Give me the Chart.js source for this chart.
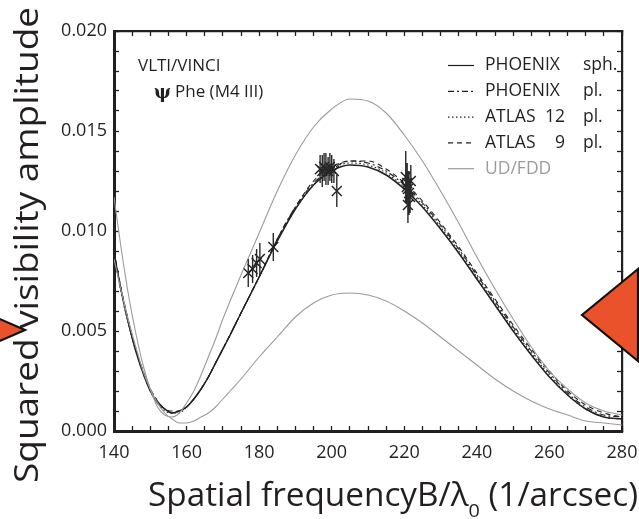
<!DOCTYPE html>
<html>
<head>
<meta charset="utf-8">
<script src="https://cdn.jsdelivr.net/npm/chart.js@4"></script>
<style>
  body { margin: 0; background: #fff; }
  #canvas { display: block; }
</style>
</head>
<body>
<canvas id="canvas" width="639" height="519"></canvas>
<script>
const canvas = document.getElementById("canvas");
const ctx = canvas.getContext("2d");

// spatial frequency samples for the model curves
const modelX = [140, 142, 144, 146, 148, 150, 152, 154, 156, 158, 160, 162, 164, 166, 168, 170, 172, 175,
  180, 185, 190, 195, 200, 205, 210, 215, 220, 225, 230, 235, 240, 245, 250, 255, 260, 265, 270, 275, 280];

const phoenixSph = [0.0089, 0.0070, 0.0054, 0.0040, 0.0029, 0.0020, 0.0014, 0.0011, 0.0009, 0.0010, 0.0012, 0.0016,
  0.0021, 0.0027, 0.0034, 0.0041, 0.0048, 0.0059, 0.0077, 0.0095, 0.0111, 0.0123, 0.0130, 0.0133, 0.0132, 0.0128,
  0.0121, 0.0112, 0.0101, 0.0089, 0.0076, 0.0063, 0.0050, 0.0038, 0.0027, 0.0018, 0.0011, 0.0007, 0.0006];
const phoenixPl = [0.0088, 0.0070, 0.0054, 0.0041, 0.0030, 0.0021, 0.0015, 0.0011, 0.0009, 0.0010, 0.0012, 0.0016,
  0.0021, 0.0027, 0.0034, 0.0041, 0.0048, 0.0059, 0.0077, 0.0096, 0.0112, 0.0124, 0.0131, 0.0135, 0.0134, 0.0130,
  0.0123, 0.0114, 0.0103, 0.0091, 0.0078, 0.0065, 0.0052, 0.0040, 0.0029, 0.0019, 0.0012, 0.0008, 0.0007];
const atlas12 = [0.0088, 0.0069, 0.0053, 0.0040, 0.0029, 0.0020, 0.0014, 0.0010, 0.0009, 0.0009, 0.0012, 0.0016,
  0.0021, 0.0027, 0.0034, 0.0041, 0.0048, 0.0059, 0.0077, 0.0095, 0.0111, 0.0123, 0.0131, 0.0134, 0.0133, 0.0129,
  0.0122, 0.0113, 0.0102, 0.0090, 0.0077, 0.0064, 0.0051, 0.0039, 0.0028, 0.0018, 0.0011, 0.0007, 0.0006];
const atlas9 = [0.0090, 0.0071, 0.0055, 0.0041, 0.0030, 0.0021, 0.0015, 0.0011, 0.0010, 0.0010, 0.0012, 0.0016,
  0.0021, 0.0027, 0.0034, 0.0041, 0.0048, 0.0059, 0.0077, 0.0096, 0.0112, 0.0125, 0.0132, 0.0135, 0.0135, 0.0131,
  0.0124, 0.0115, 0.0104, 0.0092, 0.0079, 0.0066, 0.0053, 0.0041, 0.0030, 0.0020, 0.0013, 0.0009, 0.0007];
const udUpper = [0.0117, 0.0091, 0.0068, 0.0049, 0.0033, 0.0021, 0.0012, 0.0008, 0.0007, 0.0009, 0.0014, 0.0020,
  0.0028, 0.0037, 0.0046, 0.0056, 0.0065, 0.0078, 0.0099, 0.0120, 0.0138, 0.0152, 0.0161, 0.0166, 0.0165, 0.0159,
  0.0148, 0.0135, 0.0120, 0.0104, 0.0087, 0.0071, 0.0056, 0.0042, 0.0030, 0.0021, 0.0014, 0.0010, 0.0008];
const fddLower = [0.0086, 0.0070, 0.0055, 0.0042, 0.0030, 0.0021, 0.0014, 0.0009, 0.0006, 0.0004, 0.0004, 0.0005,
  0.0007, 0.0009, 0.0012, 0.0016, 0.0020, 0.0026, 0.0037, 0.0047, 0.0057, 0.0064, 0.0068, 0.0069, 0.0068, 0.0065,
  0.0060, 0.0054, 0.0047, 0.0040, 0.0033, 0.0026, 0.0020, 0.0015, 0.0011, 0.0008, 0.0005, 0.0004, 0.0003];

// VLTI/VINCI measurements
const obsX = [177.0, 178.2, 179.3, 180.2, 183.9,
  196.8, 197.4, 197.9, 198.4, 199.0, 199.5, 200.0, 200.6, 201.4,
  220.4, 220.8, 221.0, 221.3, 221.6, 221.0, 220.7, 221.8];
const obsY = [0.0079, 0.0081, 0.0084, 0.0086, 0.0092,
  0.0131, 0.0130, 0.0132, 0.0131, 0.0130, 0.0132, 0.0131, 0.0130, 0.0120,
  0.0127, 0.0124, 0.0121, 0.0119, 0.0117, 0.0113, 0.0122, 0.0125];
const obsErr = [0.0007, 0.0007, 0.0007, 0.0008, 0.0007,
  0.0007, 0.0008, 0.0007, 0.0008, 0.0007, 0.0007, 0.0007, 0.0006, 0.0008,
  0.0013, 0.0010, 0.0009, 0.0011, 0.0008, 0.0009, 0.0007, 0.0008];

// labelled ticks and the minor tick positions
const xTicks = [140, 160, 180, 200, 220, 240, 260, 280];
const yTicks = [0, 0.005, 0.010, 0.015, 0.020];
const xMinor = [140, 145, 150, 155, 160, 165, 170, 175, 180, 185, 190, 195, 200, 205, 210, 215, 220,
  225, 230, 235, 240, 245, 250, 255, 260, 265, 270, 275, 280];
const yMinor = [0, 0.001, 0.002, 0.003, 0.004, 0.005, 0.006, 0.007, 0.008, 0.009, 0.010,
  0.011, 0.012, 0.013, 0.014, 0.015, 0.016, 0.017, 0.018, 0.019, 0.020];

const FONT = "'Open Sans', 'DejaVu Sans', sans-serif";
const INK = "#231f20";
const GRAY = "#9b9b9b";

const toPts = (ys) => ys.map((y, i) => ({ x: modelX[i], y: y }));
const isMajorY = (v) => yTicks.some((t) => Math.abs(t - v) < 1e-9);

// vertical error bars on the measurements
const errorBarPlugin = {
  id: "errorBars",
  afterDatasetsDraw(chart) {
    const { ctx, chartArea: a, scales: { x, y } } = chart;
    ctx.save();
    ctx.setLineDash([]);
    ctx.beginPath();
    ctx.rect(a.left, a.top, a.right - a.left, a.bottom - a.top);
    ctx.clip();
    ctx.strokeStyle = "#2a2a2a";
    ctx.lineWidth = 1.4;
    ctx.beginPath();
    obsX.forEach((v, i) => {
      const px = x.getPixelForValue(v);
      ctx.moveTo(px, y.getPixelForValue(obsY[i] - obsErr[i]));
      ctx.lineTo(px, y.getPixelForValue(obsY[i] + obsErr[i]));
    });
    ctx.stroke();
    ctx.restore();
  }
};

// legend, labels, axis titles, pointers
const decorPlugin = {
  id: "decor",
  afterDraw(chart) {
    const c = chart.ctx;
    c.save();
    c.setLineDash([]);
    c.fillStyle = INK;
    c.textBaseline = "middle";

    // star label
    c.font = "17px " + FONT;
    c.textAlign = "left";
    c.fillText("VLTI/VINCI", 138, 66);
    c.font = "bold 18px 'DejaVu Serif', serif";
    c.fillText("ψ", 154, 93);
    c.font = "17px " + FONT;
    c.fillText("Phe (M4 III)", 175, 92);

    // legend
    const rows = [
      { dash: [], color: INK, name: "PHOENIX", num: "", kind: "sph." },
      { dash: [6, 3, 2, 3], color: INK, name: "PHOENIX", num: "", kind: "pl." },
      { dash: [1.5, 2.5], color: INK, name: "ATLAS", num: "12", kind: "pl." },
      { dash: [5, 4], color: INK, name: "ATLAS", num: "9", kind: "pl." },
      { dash: [], color: GRAY, name: "UD/FDD", num: "", kind: "" }
    ];
    rows.forEach((r, i) => {
      const yy = 65.5 + i * 25.8;
      c.strokeStyle = r.color;
      c.lineWidth = 1.2;
      c.setLineDash(r.dash);
      c.beginPath();
      c.moveTo(448, yy); c.lineTo(474, yy);
      c.stroke();
      c.setLineDash([]);
      c.fillStyle = r.color;
      c.font = "17.5px " + FONT;
      c.textAlign = "left";
      c.fillText(r.name, 485, yy);
      c.textAlign = "right";
      if (r.num) c.fillText(r.num, 565, yy);
      c.textAlign = "left";
      if (r.kind) c.fillText(r.kind, 583, yy);
    });

    // y title
    c.fillStyle = INK;
    c.font = "32px " + FONT;
    c.textBaseline = "alphabetic";
    c.textAlign = "left";
    const yt = "Squared visibility amplitude";
    const yw = c.measureText(yt).width;
    c.save();
    c.translate(38, 483);
    c.rotate(-Math.PI / 2);
    c.scale(476 / yw, 1);
    c.fillText(yt, 0, 0);
    c.restore();

    // x title with subscript
    const p1 = "Spatial frequencyB/λ", p2 = "0", p3 = " (1/arcsec)";
    c.font = "32px " + FONT;
    const w1 = c.measureText(p1).width, w3 = c.measureText(p3).width;
    c.font = "19px " + FONT;
    const w2 = c.measureText(p2).width;
    const squeeze = 490 / (w1 + w2 + w3);
    c.save();
    c.translate(148, 506);
    c.scale(squeeze, 1);
    c.font = "32px " + FONT;
    c.fillText(p1, 0, 0);
    c.font = "19px " + FONT;
    c.fillText(p2, w1, 11);
    c.font = "32px " + FONT;
    c.fillText(p3, w1 + w2, 0);
    c.restore();

    // orange pointers
    c.fillStyle = "#e9522b";
    c.strokeStyle = "#111";
    c.lineWidth = 2.2;
    c.beginPath();
    c.moveTo(-30, 306); c.lineTo(25, 330); c.lineTo(-30, 354);
    c.closePath(); c.fill(); c.stroke();
    c.beginPath();
    c.moveTo(638, 269); c.lineTo(582, 315); c.lineTo(638, 361);
    c.closePath(); c.fill(); c.stroke();
    c.restore();
  }
};

const lineSet = (label, ys, color, dash, width) => ({
  type: "line",
  label: label,
  data: toPts(ys),
  borderColor: color,
  borderWidth: width,
  borderDash: dash,
  pointRadius: 0,
  fill: false,
  cubicInterpolationMode: "monotone"
});

// inward ticks: negative tick length, no grid lines inside the box
const tickGrid = {
  display: true,
  drawOnChartArea: false,
  drawTicks: true,
  tickLength: -5,
  tickColor: INK,
  tickWidth: 1.3
};

new Chart(ctx, {
  type: "scatter",
  data: {
    datasets: [
      lineSet("UD", udUpper, GRAY, [], 1.1),
      lineSet("FDD", fddLower, GRAY, [], 1.1),
      lineSet("PHOENIX sph.", phoenixSph, INK, [], 1.5),
      lineSet("PHOENIX pl.", phoenixPl, INK, [6, 3, 2, 3], 1.1),
      lineSet("ATLAS 12 pl.", atlas12, INK, [1.5, 2.5], 1.1),
      lineSet("ATLAS 9 pl.", atlas9, INK, [5, 4], 1.1),
      {
        label: "VLTI/VINCI",
        data: obsX.map((v, i) => ({ x: v, y: obsY[i] })),
        pointStyle: "crossRot",
        pointRadius: 7,
        borderColor: "#1e1e1e",
        borderWidth: 1.4,
        showLine: false
      }
    ]
  },
  options: {
    responsive: false,
    animation: false,
    devicePixelRatio: 1,
    layout: { padding: { top: 31, right: 17, left: 0, bottom: 0 } },
    plugins: { legend: { display: false }, tooltip: { enabled: false } },
    scales: {
      x: {
        type: "linear",
        position: "bottom",
        min: 140,
        max: 280,
        afterFit: (s) => { s.height = 88; s.paddingLeft = 0; s.paddingRight = 0; },
        afterBuildTicks: (s) => { s.ticks = xMinor.map((v) => ({ value: v })); },
        grid: tickGrid,
        border: { display: true, color: INK, width: 3 },
        ticks: {
          color: INK,
          font: { family: FONT, size: 18 },
          padding: 16,
          maxRotation: 0,
          autoSkip: false,
          callback: (v) => (xTicks.includes(v) ? String(v) : "")
        }
      },
      x2: {
        type: "linear",
        axis: "x",
        position: "top",
        min: 140,
        max: 280,
        afterFit: (s) => { s.height = 0; s.paddingLeft = 0; s.paddingRight = 0; },
        afterBuildTicks: (s) => { s.ticks = xMinor.map((v) => ({ value: v })); },
        grid: tickGrid,
        border: { display: true, color: INK, width: 2.2 },
        ticks: { display: false, autoSkip: false }
      },
      y: {
        type: "linear",
        position: "left",
        min: 0,
        max: 0.02,
        afterFit: (s) => { s.width = 114; },
        afterBuildTicks: (s) => { s.ticks = yMinor.map((v) => ({ value: v })); },
        grid: tickGrid,
        border: { display: true, color: INK, width: 3 },
        ticks: {
          color: INK,
          font: { family: FONT, size: 18 },
          padding: 12,
          autoSkip: false,
          callback: (v) => (isMajorY(v) ? v.toFixed(3) : "")
        }
      },
      y2: {
        type: "linear",
        axis: "y",
        position: "right",
        min: 0,
        max: 0.02,
        afterFit: (s) => { s.width = 0; },
        afterBuildTicks: (s) => { s.ticks = yMinor.map((v) => ({ value: v })); },
        grid: tickGrid,
        border: { display: true, color: INK, width: 2.2 },
        ticks: { display: false, autoSkip: false }
      }
    }
  },
  plugins: [errorBarPlugin, decorPlugin]
});
</script>
</body>
</html>
